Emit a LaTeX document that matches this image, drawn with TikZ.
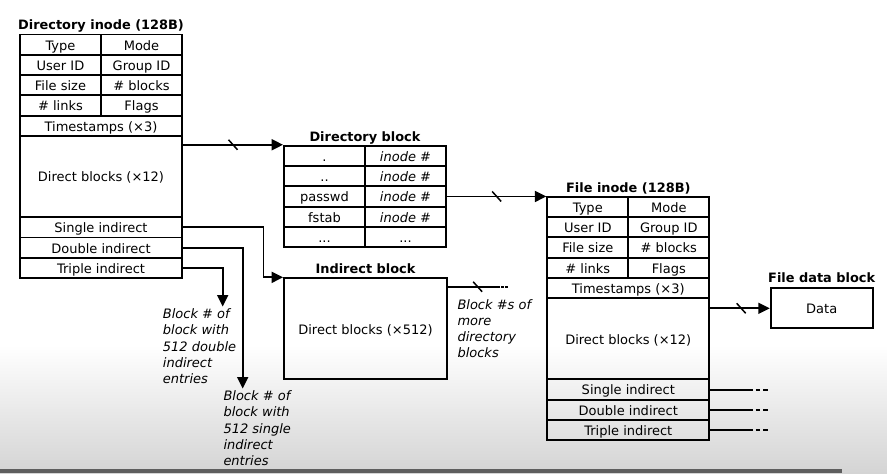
\documentclass[tikz,border=0pt]{standalone}
\usepackage{fontspec}
\setmainfont{DejaVu Sans}
\usetikzlibrary{arrows.meta,decorations.markings}

\begin{document}
\begin{tikzpicture}[x=1pt, y=-1pt,
    font=\fontsize{13pt}{16.3pt}\selectfont,
    cell/.style={draw, line width=1.9pt, inner sep=0pt, minimum width=81pt, minimum height=20.3pt,
        text height=11pt, text depth=0.3pt},
    wide/.style={cell, minimum width=162pt},
    heading/.style={font=\fontsize{12.9pt}{16.3pt}\selectfont\bfseries, text height=11pt, text depth=0.3pt},
    note/.style={anchor=north west, align=left, inner sep=2pt, font=\fontsize{13pt}{16.3pt}\selectfont\itshape},
    wire/.style={line width=1.9pt},
    arr/.style={wire, -{Triangle[length=11.5pt, width=11pt]}},
    tick/.style={postaction={decorate, decoration={markings,
        mark=at position #1 with {\draw[-, line width=1.5pt] (-4.5pt,5pt) -- (4.5pt,-5pt);}}}},
    stub/.style={line width=1.9pt, dash pattern=on 4.6pt off 3pt}]

        \fill[white] (0,0) rectangle (887,474);
        \shade[top color=white, bottom color=black!17] (0,345) rectangle (887,474);
        \fill[black!63] (0,469) rectangle (842,472.5);
        \useasboundingbox (0,0) rectangle (887,474);

        % directory inode
        \begin{scope}[shift={(20,34.5)}]
        \node[heading] (dtitle) at (81,-10.5) {Directory inode (128B)};
        \node[cell] (dtype) at (40.5,10.15) {Type};
        \node[cell] (dmode) at (121.5,10.15) {Mode};
        \node[cell] (duid) at (40.5,30.45) {User ID};
        \node[cell] (dgid) at (121.5,30.45) {Group ID};
        \node[cell] (dsize) at (40.5,50.75) {File size};
        \node[cell] (dnblk) at (121.5,50.75) {\# blocks};
        \node[cell] (dlinks) at (40.5,71.05) {\# links};
        \node[cell] (dflags) at (121.5,71.05) {Flags};
        \node[wide] (dtime) at (81,91.35) {Timestamps (×3)};
        \node[wide, minimum height=81.2pt] (ddirect) at (81,142.1) {Direct blocks (×12)};
        \node[wide] (dsingle) at (81,192.85) {Single indirect};
        \node[wide] (ddouble) at (81,213.15) {Double indirect};
        \node[wide] (dtriple) at (81,233.45) {Triple indirect};
        \end{scope}

        % file inode
        \begin{scope}[shift={(547.3,196.7)}]
        \node[heading] (ftitle) at (81,-10) {File inode (128B)};
        \node[cell] (ftype) at (40.5,10.15) {Type};
        \node[cell] (fmode) at (121.5,10.15) {Mode};
        \node[cell] (fuid) at (40.5,30.45) {User ID};
        \node[cell] (fgid) at (121.5,30.45) {Group ID};
        \node[cell] (fsize) at (40.5,50.75) {File size};
        \node[cell] (fnblk) at (121.5,50.75) {\# blocks};
        \node[cell] (flinks) at (40.5,71.05) {\# links};
        \node[cell] (fflags) at (121.5,71.05) {Flags};
        \node[wide] (ftime) at (81,91.35) {Timestamps (×3)};
        \node[wide, minimum height=81.2pt] (fdirect) at (81,142.1) {Direct blocks (×12)};
        \node[wide] (fsingle) at (81,192.85) {Single indirect};
        \node[wide] (fdouble) at (81,213.15) {Double indirect};
        \node[wide] (ftriple) at (81,233.45) {Triple indirect};
        \end{scope}

        % directory block
        \node[heading] (btitle) at (365,136) {Directory block};
        \node[cell] (bname1) at (324.5,155.85) {.};
        \node[cell] (binode1) at (405.5,155.85) {\textit{inode \#}};
        \node[cell] (bname2) at (324.5,176.15) {..};
        \node[cell] (binode2) at (405.5,176.15) {\textit{inode \#}};
        \node[cell] (bname3) at (324.5,196.45) {passwd};
        \node[cell] (binode3) at (405.5,196.45) {\textit{inode \#}};
        \node[cell] (bname4) at (324.5,216.75) {fstab};
        \node[cell] (binode4) at (405.5,216.75) {\textit{inode \#}};
        \node[cell] (bname5) at (324.5,237.05) {...};
        \node[cell] (binode5) at (405.5,237.05) {...};

        % indirect block and data block
        \node[heading] (ititle) at (365.5,268) {Indirect block};
        \node[cell, minimum width=163pt, minimum height=101pt] (indir) at (365.5,328.8) {Direct blocks (×512)};
        \node[heading] (datatitle) at (821.7,277.3) {File data block};
        \node[cell, minimum width=102pt, minimum height=40pt] (data) at (821.7,308.3) {Data};

        \node[note] (dblnote) at (160.7,306.5) {Block \# of\\block with\\512 double\\indirect\\entries};
        \node[note] (sglnote) at (221.3,388.5) {Block \# of\\block with\\512 single\\indirect\\entries};
        \node[note] (morenote) at (455.3,297) {Block \#s of\\more\\directory\\blocks};

        % #######################################

        \draw[arr, tick=0.5] (ddirect.east |- bname1.north) -- (bname1.north west);
        \draw[arr, tick=0.5] (binode3.east) -- (binode3.east -| ftype.west);

        \draw[arr] (dsingle.east) -- ++(80.5,0) |- (indir.north west);
        \draw[arr] (ddouble.east) -| ([xshift=21.4pt]sglnote.north west);
        \draw[arr] (dtriple.east) -| ([xshift=62pt]dblnote.north west);

        \draw[wire, tick=0.6] ([yshift=-9.4pt]indir.north east) -- ++(49.5,0) coordinate (moreend);
        \draw[wire, dash pattern=on 2.2pt off 1.8pt] (moreend) -- ++(10.5,0);

        \draw[arr, tick=0.52] (data.west -| fdirect.east) -- (data.west);

        \draw[wire] (fsingle.east) -- ++(38,0) coordinate (fs1); \draw[stub] (fs1) -- ++(22.4,0);
        \draw[wire] (fdouble.east) -- ++(38,0) coordinate (fs2); \draw[stub] (fs2) -- ++(22.4,0);
        \draw[wire] (ftriple.east) -- ++(38,0) coordinate (fs3); \draw[stub] (fs3) -- ++(22.4,0);

\end{tikzpicture}
\end{document}
